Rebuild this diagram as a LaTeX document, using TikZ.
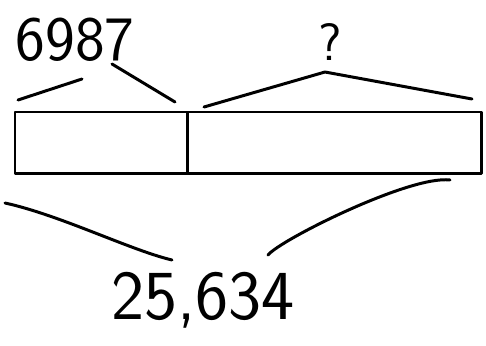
\documentclass[tikz,border=0pt]{standalone}
\usepackage{tikz}
\usetikzlibrary{positioning}

\begin{document}
\begin{tikzpicture}[
  x=0.02cm, y=-0.02cm,
  pen/.style={line width=1.7pt, line cap=round, line join=round},
  part/.style={draw, pen, minimum height=1.24cm, inner sep=0pt, outer sep=0pt},
  every node/.style={font=\sffamily}
]
  \useasboundingbox (0,0) rectangle (486,345);

  % bar model
  \node[part, anchor=north west, minimum width=3.46cm] (partA) at (15,112) {};
  \node[part, minimum width=5.88cm, right=0pt of partA] (partB) {};

  % labels
  \node[font=\sffamily\fontsize{36}{38}\selectfont] (known) at (75,40) {6987};
  \node[font=\sffamily\fontsize{30}{32}\selectfont] (unknown) at (330,42) {?};
  \node[font=\sffamily\fontsize{40}{42}\selectfont] (total) at (203,300) {25,634};

  % brace ends
  \coordinate (kL) at (18,100);
  \coordinate (kM1) at (82,79);
  \coordinate (kM2) at (112,64);
  \coordinate (kR) at (175,102);
  \coordinate (uL) at (204,107);
  \coordinate (uM) at (325,72);
  \coordinate (uR) at (472,99);
  \coordinate (tL) at (5,203);
  \coordinate (tM1) at (172,260);
  \coordinate (tM2) at (268,255);
  \coordinate (tR) at (450,180);

  % braces
  \draw[pen] (kL) -- (kM1);
  \draw[pen] (kM2) -- (kR);
  \draw[pen] (uL) -- (uM) -- (uR);
  \draw[pen] (tL) .. controls (60,215) and (130,250) .. (tM1);
  \draw[pen] (tM2) .. controls (280,240) and (410,175) .. (tR);
\end{tikzpicture}
\end{document}
